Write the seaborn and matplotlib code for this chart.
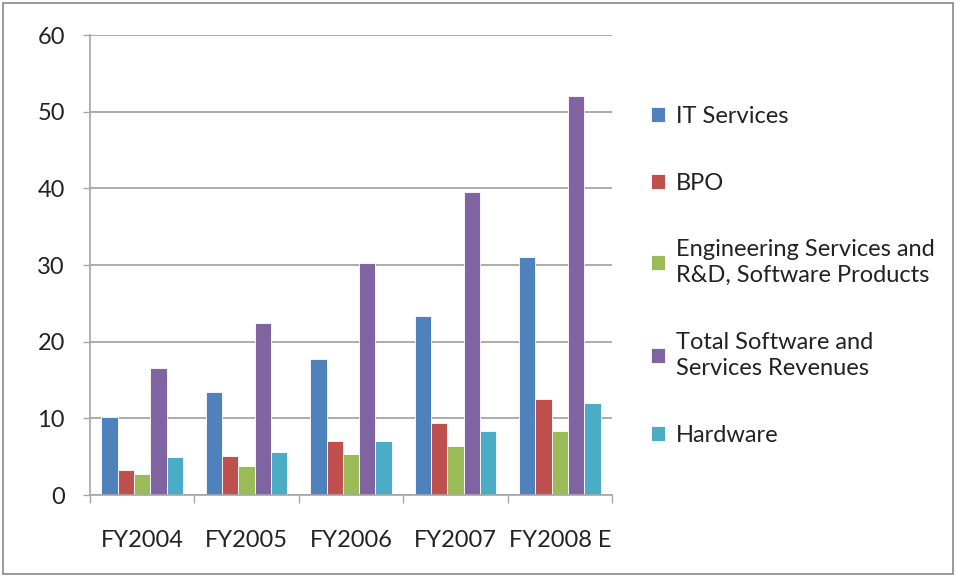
import matplotlib
matplotlib.use("Agg")
import matplotlib.pyplot as plt
import seaborn as sns
import pandas as pd
from matplotlib.patches import Rectangle

years = ["FY2004", "FY2005", "FY2006", "FY2007", "FY2008 E"]
series_names = [
    "IT Services",
    "BPO",
    "Engineering Services and\nR&D, Software Products",
    "Total Software and\nServices Revenues",
    "Hardware",
]
it_services = [10.2, 13.4, 17.8, 23.4, 31.0]
bpo = [3.2, 5.1, 7.1, 9.4, 12.5]
engineering = [2.7, 3.8, 5.3, 6.4, 8.4]
total_sw = [16.6, 22.5, 30.3, 39.5, 52.0]
hardware = [4.9, 5.6, 7.1, 8.4, 12.0]
colors = ["#4F81BD", "#C0504D", "#9BBB59", "#8064A2", "#4BACC6"]
yticks = [0, 10, 20, 30, 40, 50, 60]

rows = []
for name, vals in zip(series_names, [it_services, bpo, engineering, total_sw, hardware]):
    for y, v in zip(years, vals):
        rows.append({"Year": y, "Series": name, "Value": v})
df = pd.DataFrame(rows)

sns.set_theme(style="white")
plt.rcParams["font.family"] = ["Lato", "DejaVu Sans"]

fig = plt.figure(figsize=(9.56, 5.77), dpi=100)
ax = fig.add_axes([90 / 956, 82 / 577, 522 / 956, 460 / 577])

sns.barplot(data=df, x="Year", y="Value", hue="Series", order=years,
            hue_order=series_names, palette=colors, width=0.78, saturation=1,
            edgecolor="#FFFFFF", linewidth=0.6, ax=ax, legend=True)

ax.set_ylim(0, 60)
ax.set_xlim(-0.5, len(years) - 0.5)
ax.set_yticks(yticks)
ax.set_yticklabels([str(t) for t in yticks])
ax.yaxis.grid(True, color="#A6A6A6", linewidth=1.3)
ax.set_axisbelow(True)
ax.set_xlabel("")
ax.set_ylabel("")

for s in ["top", "right"]:
    ax.spines[s].set_visible(False)
for s in ["left", "bottom"]:
    ax.spines[s].set_color("#A6A6A6")
    ax.spines[s].set_linewidth(1.2)

ax.tick_params(axis="y", which="major", left=True, length=5, width=1.0,
               color="#A6A6A6", labelsize=17, pad=13, labelcolor="#222222")
ax.tick_params(axis="x", which="major", length=0, labelsize=17, pad=25,
               labelcolor="#222222")
ax.set_xticks([i - 0.5 for i in range(len(years) + 1)], minor=True)
ax.tick_params(axis="x", which="minor", bottom=True, length=6, width=1.0,
               color="#A6A6A6")

handles, labels = ax.get_legend_handles_labels()
ax.get_legend().remove()
leg = fig.legend(handles, labels, loc="center left", bbox_to_anchor=(0.681, 0.522),
                 frameon=False, borderpad=0, borderaxespad=0, fontsize=17,
                 handlelength=0.6, handleheight=0.6, handletextpad=0.45,
                 labelspacing=1.93, labelcolor="#222222")
for t in leg.get_texts():
    t.set_linespacing(1.3)

fig.patches.append(Rectangle((3 / 956, 3 / 577), 950 / 956, 571 / 577,
                             transform=fig.transFigure, fill=False,
                             edgecolor="#888888", linewidth=1.2))

fig.savefig("out.png", dpi=100)
